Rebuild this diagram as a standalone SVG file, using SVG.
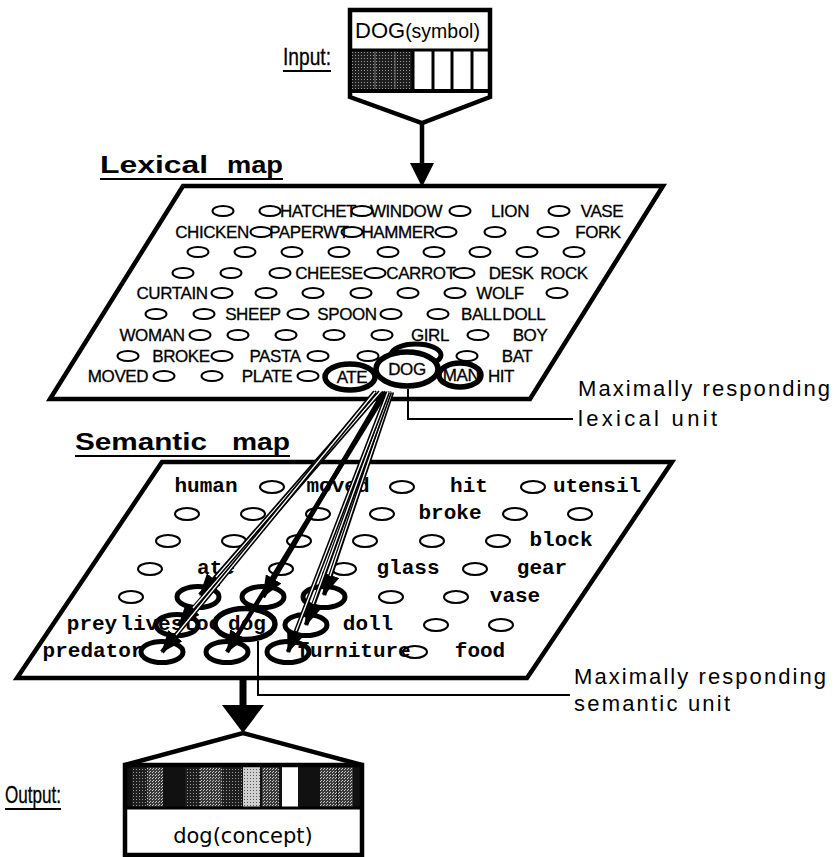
<svg xmlns="http://www.w3.org/2000/svg" width="838" height="857" viewBox="0 0 838 857">
  <defs>
    <pattern id="stipDark" width="3" height="3" patternUnits="userSpaceOnUse">
      <rect width="3" height="3" fill="#1e1e1e"/>
      <rect x="1" y="1" width="1" height="1" fill="#9a9a9a"/>
    </pattern>
    <pattern id="stipMid" width="3" height="3" patternUnits="userSpaceOnUse">
      <rect width="3" height="3" fill="#3a3a3a"/>
      <rect x="0" y="0" width="1" height="1" fill="#c8c8c8"/>
      <rect x="2" y="1" width="1" height="1" fill="#c8c8c8"/>
    </pattern>
    <pattern id="stipLight" width="3" height="3" patternUnits="userSpaceOnUse">
      <rect width="3" height="3" fill="#d0d0d0"/>
      <rect x="1" y="1" width="1" height="1" fill="#555"/>
    </pattern>
    <marker id="head" markerUnits="userSpaceOnUse" markerWidth="22" markerHeight="18" refX="21" refY="9" orient="auto">
      <path d="M0,0 L22,9 L0,18 Z" fill="#000"/>
    </marker>
  </defs>
  <style>
    .map { fill: #fff; stroke: #000; stroke-width: 4.5; stroke-linejoin: miter; }
    .u { fill: none; stroke: #000; stroke-width: 2; }
    .ring { fill: none; stroke: #000; stroke-width: 5; }
    .ringw { fill: #fff; stroke: #000; stroke-width: 5.5; }
    .lex { font-family: "Liberation Sans", Arial, sans-serif; font-size: 17px; text-anchor: middle; fill: #000; stroke: #000; stroke-width: 0.3; letter-spacing: -0.4px; }
    .sem { font-family: "Liberation Mono", "Courier New", monospace; font-size: 21px; text-anchor: middle; fill: #000; font-weight: bold; }
    .title { font-family: "Liberation Sans", Arial, sans-serif; font-size: 24px; font-weight: bold; fill: #000; }
    .lab { font-family: "Liberation Sans", Arial, sans-serif; fill: #000; }
    .io { font-family: "Liberation Sans", Arial, sans-serif; font-size: 23px; fill: #000; stroke: #000; stroke-width: 0.3; }
    .note { font-family: "Liberation Sans", Arial, sans-serif; font-size: 22px; fill: #000; }
    .rule { stroke: #000; stroke-width: 2; fill: none; }
    .wire { stroke: #000; stroke-width: 4.5; fill: none; marker-end: url(#head); }
    .core { stroke: #fff; stroke-width: 1.3; fill: none; }
  </style>

  <rect width="838" height="857" fill="#fff"/>

  <!-- input symbol box with funnel -->
  <g id="input">
    <path class="map" d="M350,10 H490 V97 L422,123 L350,97 Z"/>
    <rect x="352" y="50" width="61" height="41" fill="url(#stipDark)"/>
    <line x1="375" y1="50" x2="375" y2="91" stroke="#777" stroke-width="1"/>
    <line x1="395" y1="50" x2="395" y2="91" stroke="#777" stroke-width="1"/>
    <line x1="350" y1="50" x2="490" y2="50" stroke="#000" stroke-width="3"/>
    <line x1="350" y1="91" x2="490" y2="91" stroke="#000" stroke-width="4"/>
    <line x1="413" y1="50" x2="413" y2="91" stroke="#000" stroke-width="3"/>
    <line x1="433" y1="50" x2="433" y2="91" stroke="#000" stroke-width="3"/>
    <line x1="452" y1="50" x2="452" y2="91" stroke="#000" stroke-width="3"/>
    <line x1="472" y1="50" x2="472" y2="91" stroke="#000" stroke-width="3"/>
    <text x="355" y="38" class="lab"><tspan font-size="22">DOG</tspan><tspan font-size="19.5">(symbol)</tspan></text>
    <line x1="422" y1="123" x2="422" y2="166" stroke="#000" stroke-width="4.5"/>
    <polygon points="410,163 434,163 422,187" fill="#000"/>
  </g>

  <!-- lexical map -->
  <g id="lexical-map">
    <polygon class="map" points="183,186 663,186 530,399 50,399"/>
    <!-- row 1 -->
    <ellipse class="u" cx="223" cy="211" rx="10.5" ry="5"/>
    <ellipse class="u" cx="270" cy="211" rx="10.5" ry="5"/>
    <text class="lex" x="318" y="217">HATCHET</text>
    <ellipse class="u" cx="362" cy="211" rx="10.5" ry="5"/>
    <text class="lex" x="406" y="217">WINDOW</text>
    <ellipse class="u" cx="460" cy="211" rx="10.5" ry="5"/>
    <text class="lex" x="510" y="217">LION</text>
    <ellipse class="u" cx="559" cy="211" rx="10.5" ry="5"/>
    <text class="lex" x="602" y="217">VASE</text>
    <!-- row 2 -->
    <text class="lex" x="212" y="238">CHICKEN</text>
    <ellipse class="u" cx="261" cy="232" rx="10.5" ry="5"/>
    <text class="lex" x="309" y="238">PAPERWT</text>
    <ellipse class="u" cx="352" cy="232" rx="10.5" ry="5"/>
    <text class="lex" x="398" y="238">HAMMER</text>
    <ellipse class="u" cx="446" cy="232" rx="10.5" ry="5"/>
    <ellipse class="u" cx="495" cy="232" rx="10.5" ry="5"/>
    <ellipse class="u" cx="548" cy="232" rx="10.5" ry="5"/>
    <text class="lex" x="598" y="238">FORK</text>
    <!-- row 3 -->
    <ellipse class="u" cx="198" cy="252" rx="10.5" ry="5"/>
    <ellipse class="u" cx="245" cy="252" rx="10.5" ry="5"/>
    <ellipse class="u" cx="292" cy="252" rx="10.5" ry="5"/>
    <ellipse class="u" cx="339" cy="252" rx="10.5" ry="5"/>
    <ellipse class="u" cx="388" cy="252" rx="10.5" ry="5"/>
    <ellipse class="u" cx="434" cy="252" rx="10.5" ry="5"/>
    <ellipse class="u" cx="480" cy="252" rx="10.5" ry="5"/>
    <ellipse class="u" cx="527" cy="252" rx="10.5" ry="5"/>
    <ellipse class="u" cx="574" cy="252" rx="10.5" ry="5"/>
    <!-- row 4 -->
    <ellipse class="u" cx="183" cy="273" rx="10.5" ry="5"/>
    <ellipse class="u" cx="231" cy="273" rx="10.5" ry="5"/>
    <ellipse class="u" cx="280" cy="273" rx="10.5" ry="5"/>
    <text class="lex" x="329" y="279">CHEESE</text>
    <ellipse class="u" cx="375" cy="273" rx="10.5" ry="5"/>
    <text class="lex" x="421" y="279">CARROT</text>
    <ellipse class="u" cx="464" cy="273" rx="10.5" ry="5"/>
    <text class="lex" x="511" y="279">DESK</text>
    <text class="lex" x="564" y="279">ROCK</text>
    <!-- row 5 -->
    <text class="lex" x="172" y="299">CURTAIN</text>
    <ellipse class="u" cx="222" cy="293" rx="10.5" ry="5"/>
    <ellipse class="u" cx="266" cy="293" rx="10.5" ry="5"/>
    <ellipse class="u" cx="313" cy="293" rx="10.5" ry="5"/>
    <ellipse class="u" cx="361" cy="293" rx="10.5" ry="5"/>
    <ellipse class="u" cx="408" cy="293" rx="10.5" ry="5"/>
    <ellipse class="u" cx="455" cy="293" rx="10.5" ry="5"/>
    <text class="lex" x="500" y="299">WOLF</text>
    <ellipse class="u" cx="557" cy="293" rx="10.5" ry="5"/>
    <!-- row 6 -->
    <ellipse class="u" cx="156" cy="314" rx="10.5" ry="5"/>
    <ellipse class="u" cx="204" cy="314" rx="10.5" ry="5"/>
    <text class="lex" x="253" y="320">SHEEP</text>
    <ellipse class="u" cx="298" cy="314" rx="10.5" ry="5"/>
    <text class="lex" x="347" y="320">SPOON</text>
    <ellipse class="u" cx="391" cy="314" rx="10.5" ry="5"/>
    <ellipse class="u" cx="438" cy="314" rx="10.5" ry="5"/>
    <text class="lex" x="481" y="320">BALL</text>
    <text class="lex" x="524" y="320">DOLL</text>
    <!-- row 7 -->
    <text class="lex" x="152" y="341">WOMAN</text>
    <ellipse class="u" cx="200" cy="335" rx="10.5" ry="5"/>
    <ellipse class="u" cx="238" cy="335" rx="10.5" ry="5"/>
    <ellipse class="u" cx="286" cy="335" rx="10.5" ry="5"/>
    <ellipse class="u" cx="334" cy="335" rx="10.5" ry="5"/>
    <ellipse class="u" cx="382" cy="335" rx="10.5" ry="5"/>
    <text class="lex" x="430" y="341">GIRL</text>
    <ellipse class="u" cx="478" cy="335" rx="10.5" ry="5"/>
    <text class="lex" x="530" y="341">BOY</text>
    <!-- row 8 -->
    <ellipse class="u" cx="128" cy="356" rx="10.5" ry="5"/>
    <text class="lex" x="181" y="362">BROKE</text>
    <ellipse class="u" cx="222" cy="356" rx="10.5" ry="5"/>
    <text class="lex" x="275" y="362">PASTA</text>
    <ellipse class="u" cx="318" cy="356" rx="10.5" ry="5"/>
    <ellipse class="u" cx="368" cy="356" rx="10.5" ry="5"/>
    <ellipse class="u" cx="467" cy="356" rx="10.5" ry="5"/>
    <text class="lex" x="517" y="362">BAT</text>
    <!-- row 9 -->
    <text class="lex" x="118" y="382">MOVED</text>
    <ellipse class="u" cx="164" cy="376" rx="10.5" ry="5"/>
    <ellipse class="u" cx="212" cy="376" rx="10.5" ry="5"/>
    <text class="lex" x="267" y="382">PLATE</text>
    <ellipse class="u" cx="308" cy="376" rx="10.5" ry="5"/>
    <text class="lex" x="501" y="382">HIT</text>
    <!-- strongly active units around the winner -->
    <ellipse class="ring" cx="416" cy="355" rx="25" ry="11"/>
    <ellipse class="ringw" cx="350" cy="377" rx="25" ry="13"/>
    <text class="lex" x="352" y="383">ATE</text>
    <ellipse class="ringw" cx="460" cy="375" rx="21" ry="12"/>
    <text class="lex" x="461" y="381">MAN</text>
    <ellipse class="ringw" cx="407" cy="369" rx="31" ry="17" stroke-width="6"/>
    <text class="lex" x="407" y="375">DOG</text>
  </g>

  <!-- semantic map -->
  <g id="semantic-map">
    <polygon class="map" points="162,462 672,462 527,678 17,678"/>
    <!-- row 1 -->
    <text class="sem" x="206" y="492">human</text>
    <ellipse class="u" cx="272" cy="487" rx="12" ry="6"/>
    <text class="sem" x="338" y="492">moved</text>
    <ellipse class="u" cx="402" cy="487" rx="12" ry="6"/>
    <text class="sem" x="469" y="492">hit</text>
    <ellipse class="u" cx="533" cy="487" rx="12" ry="6"/>
    <text class="sem" x="597" y="492">utensil</text>
    <!-- row 2 -->
    <ellipse class="u" cx="187" cy="514" rx="12" ry="6"/>
    <ellipse class="u" cx="253" cy="514" rx="12" ry="6"/>
    <ellipse class="u" cx="318" cy="514" rx="12" ry="6"/>
    <ellipse class="u" cx="382" cy="514" rx="12" ry="6"/>
    <text class="sem" x="450" y="519">broke</text>
    <ellipse class="u" cx="515" cy="514" rx="12" ry="6"/>
    <ellipse class="u" cx="580" cy="514" rx="12" ry="6"/>
    <!-- row 3 -->
    <ellipse class="u" cx="168" cy="541" rx="12" ry="6"/>
    <ellipse class="u" cx="234" cy="541" rx="12" ry="6"/>
    <ellipse class="u" cx="299" cy="541" rx="12" ry="6"/>
    <ellipse class="u" cx="365" cy="541" rx="12" ry="6"/>
    <ellipse class="u" cx="432" cy="541" rx="12" ry="6"/>
    <ellipse class="u" cx="498" cy="541" rx="12" ry="6"/>
    <text class="sem" x="561" y="546">block</text>
    <!-- row 4 -->
    <ellipse class="u" cx="150" cy="569" rx="12" ry="6"/>
    <text class="sem" x="216" y="574">ate</text>
    <ellipse class="u" cx="281" cy="569" rx="12" ry="6"/>
    <ellipse class="u" cx="344" cy="569" rx="12" ry="6"/>
    <text class="sem" x="408" y="574">glass</text>
    <ellipse class="u" cx="475" cy="569" rx="12" ry="6"/>
    <text class="sem" x="542" y="574">gear</text>
    <!-- row 5 -->
    <ellipse class="u" cx="131" cy="597" rx="12" ry="6"/>
    <ellipse class="ring" cx="198" cy="597" rx="21" ry="10.5"/>
    <ellipse class="ring" cx="263" cy="597" rx="21" ry="10.5"/>
    <ellipse class="ring" cx="324" cy="597" rx="21" ry="10.5"/>
    <ellipse class="u" cx="391" cy="597" rx="12" ry="6"/>
    <ellipse class="u" cx="456" cy="597" rx="12" ry="6"/>
    <text class="sem" x="515" y="602">vase</text>
    <!-- row 6 -->
    <text class="sem" x="92" y="630">prey</text>
    <text class="sem" x="177" y="630">livestock</text>
    <ellipse class="ring" cx="177" cy="625" rx="21" ry="10.5"/>
    <ellipse class="ringw" cx="245" cy="624" rx="30" ry="15.5"/>
    <text class="sem" x="247" y="630">dog</text>
    <ellipse class="ring" cx="306" cy="625" rx="21" ry="10.5"/>
    <text class="sem" x="368" y="630">doll</text>
    <ellipse class="u" cx="436" cy="625" rx="12" ry="6"/>
    <ellipse class="u" cx="501" cy="625" rx="12" ry="6"/>
    <!-- row 7 -->
    <text class="sem" x="93" y="657">predator</text>
    <ellipse class="ring" cx="162" cy="652" rx="21" ry="10.5"/>
    <ellipse class="ring" cx="227" cy="652" rx="21" ry="10.5"/>
    <ellipse class="ring" cx="288" cy="652" rx="21" ry="10.5"/>
    <text class="sem" x="354" y="657">furniture</text>
    <ellipse class="u" cx="415" cy="652" rx="12" ry="6"/>
    <text class="sem" x="480" y="657">food</text>
  </g>

  <!-- lexical-to-semantic associative connections -->
  <g id="connectors">
    <line class="wire" x1="377" y1="392" x2="200" y2="595"/>
    <line class="core" x1="377" y1="392" x2="216" y2="577"/>
    <line class="wire" x1="384" y1="392" x2="263" y2="597"/>
    <line class="wire" x1="392" y1="392" x2="324" y2="595"/>
    <line class="core" x1="392" y1="392" x2="330" y2="576"/>
    <line class="wire" x1="380" y1="392" x2="179" y2="625"/>
    <line class="core" x1="380" y1="392" x2="193" y2="608"/>
    <line class="wire" x1="390" y1="392" x2="306" y2="625"/>
    <line class="core" x1="390" y1="392" x2="313" y2="604"/>
    <line class="wire" x1="375" y1="392" x2="162" y2="652"/>
    <line class="core" x1="375" y1="392" x2="176" y2="635"/>
    <line class="wire" x1="386" y1="392" x2="227" y2="652"/>
    <line class="wire" x1="388" y1="392" x2="288" y2="652"/>
    <line class="core" x1="388" y1="392" x2="296" y2="631"/>
  </g>

  <!-- output concept box -->
  <g id="output">
    <line x1="243" y1="678" x2="243" y2="708" stroke="#000" stroke-width="7"/>
    <polygon points="222,705 264,705 243,733" fill="#000"/>
    <path d="M125,765 L243,733 L362,765" fill="none" stroke="#000" stroke-width="4.5"/>
    <rect x="125" y="765" width="237" height="43" fill="#111"/>
    <rect x="132" y="765" width="15" height="43" fill="url(#stipDark)"/>
    <rect x="147" y="765" width="16" height="43" fill="url(#stipMid)"/>
    <rect x="185" y="765" width="15" height="43" fill="url(#stipDark)"/>
    <rect x="200" y="765" width="22" height="43" fill="url(#stipMid)"/>
    <rect x="222" y="765" width="20" height="43" fill="url(#stipDark)"/>
    <rect x="243" y="765" width="17" height="43" fill="url(#stipLight)"/>
    <rect x="262" y="765" width="17" height="43" fill="url(#stipMid)"/>
    <rect x="282" y="767" width="16" height="41" fill="#fff"/>
    <rect x="320" y="765" width="17" height="43" fill="url(#stipMid)"/>
    <rect x="338" y="765" width="15" height="43" fill="url(#stipMid)"/>
    <rect x="125" y="765" width="237" height="90" fill="none" stroke="#000" stroke-width="4.5"/>
    <line x1="125" y1="808" x2="362" y2="808" stroke="#000" stroke-width="3"/>
    <text x="243" y="843" font-family="DejaVu Sans, sans-serif" font-size="21" text-anchor="middle" fill="#000">dog(concept)</text>
  </g>

  <!-- titles and annotations -->
  <g id="labels">
    <text class="io" x="283" y="65" textLength="48" lengthAdjust="spacingAndGlyphs">Input:</text>
    <line x1="283" y1="71" x2="331" y2="71" stroke="#000" stroke-width="1.8"/>
    <text class="io" x="5" y="803" textLength="56" lengthAdjust="spacingAndGlyphs">Output:</text>
    <line x1="5" y1="809" x2="61" y2="809" stroke="#000" stroke-width="1.8"/>

    <text class="title" x="100" y="173" textLength="108" lengthAdjust="spacingAndGlyphs">Lexical</text>
    <text class="title" x="227" y="173" textLength="56" lengthAdjust="spacingAndGlyphs">map</text>
    <line x1="100" y1="179" x2="283" y2="179" stroke="#000" stroke-width="2"/>

    <text class="title" x="75" y="450" textLength="132" lengthAdjust="spacingAndGlyphs">Semantic</text>
    <text class="title" x="232" y="450" textLength="58" lengthAdjust="spacingAndGlyphs">map</text>
    <line x1="75" y1="456" x2="290" y2="456" stroke="#000" stroke-width="2"/>

    <path class="rule" d="M408,389 V419 H573"/>
    <text class="note" x="578" y="396" textLength="252" lengthAdjust="spacing">Maximally  responding</text>
    <text class="note" x="578" y="426" textLength="139" lengthAdjust="spacing">lexical  unit</text>

    <path class="rule" d="M258,641 V695 H570"/>
    <text class="note" x="574" y="684" textLength="252" lengthAdjust="spacing">Maximally  responding</text>
    <text class="note" x="574" y="711" textLength="156" lengthAdjust="spacing">semantic  unit</text>
  </g>
</svg>
